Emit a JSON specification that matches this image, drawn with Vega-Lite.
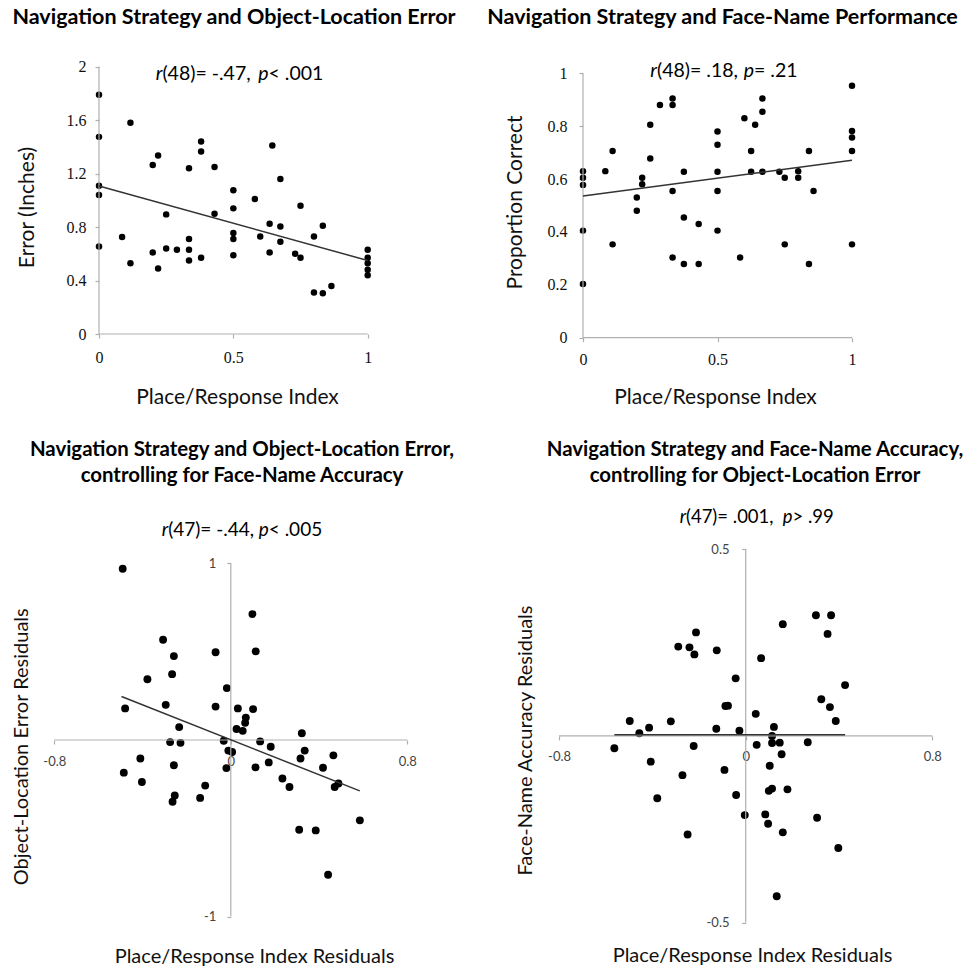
{
  "$schema": "https://vega.github.io/schema/vega-lite/v6.json",
  "padding": 0,
  "background": "white",
  "config": {
    "view": {"stroke": null},
    "font": "Lato",
    "axis": {
      "domain": false, "grid": false, "ticks": true, "tickSize": 4, "tickColor": "#b0b0b0", "tickWidth": 1.2,
      "labelFlush": false, "labelOverlap": false, "labelBaseline": "middle",
      "titleFont": "Lato", "titleFontSize": 21, "titleFontWeight": "normal", "titleColor": "#111",
      "titleAlign": "center", "titleBaseline": "middle"
    },
    "title": {"font": "Lato", "fontSize": 21.5, "fontWeight": "bold", "color": "#000", "frame": "group", "anchor": "middle", "baseline": "middle"}
  },
  "datasets": {
    "tl": [
      {"pri": 0, "error": 1.79}, {"pri": 0, "error": 1.475}, {"pri": 0, "error": 1.11}, {"pri": 0, "error": 1.04}, {"pri": 0, "error": 0.655},
      {"pri": 0.086, "error": 0.725}, {"pri": 0.117, "error": 1.58}, {"pri": 0.117, "error": 0.53},
      {"pri": 0.2, "error": 1.265}, {"pri": 0.22, "error": 1.335}, {"pri": 0.2, "error": 0.61}, {"pri": 0.22, "error": 0.49},
      {"pri": 0.25, "error": 0.895}, {"pri": 0.25, "error": 0.64}, {"pri": 0.29, "error": 0.63},
      {"pri": 0.335, "error": 1.24}, {"pri": 0.335, "error": 0.71}, {"pri": 0.335, "error": 0.63}, {"pri": 0.335, "error": 0.55},
      {"pri": 0.38, "error": 1.44}, {"pri": 0.38, "error": 1.365}, {"pri": 0.38, "error": 0.57},
      {"pri": 0.43, "error": 1.25}, {"pri": 0.43, "error": 0.9},
      {"pri": 0.5, "error": 1.075}, {"pri": 0.5, "error": 0.94}, {"pri": 0.5, "error": 0.755}, {"pri": 0.5, "error": 0.71}, {"pri": 0.5, "error": 0.59},
      {"pri": 0.58, "error": 1.01}, {"pri": 0.6, "error": 0.73}, {"pri": 0.645, "error": 1.41}, {"pri": 0.635, "error": 0.825}, {"pri": 0.635, "error": 0.61},
      {"pri": 0.675, "error": 1.16}, {"pri": 0.675, "error": 0.805}, {"pri": 0.675, "error": 0.69},
      {"pri": 0.73, "error": 0.6}, {"pri": 0.75, "error": 0.96}, {"pri": 0.75, "error": 0.57},
      {"pri": 0.8, "error": 0.73}, {"pri": 0.833, "error": 0.81}, {"pri": 0.8, "error": 0.31}, {"pri": 0.833, "error": 0.305}, {"pri": 0.865, "error": 0.36},
      {"pri": 1, "error": 0.63}, {"pri": 1, "error": 0.57}, {"pri": 1, "error": 0.53}, {"pri": 1, "error": 0.48}, {"pri": 1, "error": 0.44}
    ],
    "tr": [
      {"pri": 0, "correct": 0.63}, {"pri": 0, "correct": 0.605}, {"pri": 0, "correct": 0.578}, {"pri": 0, "correct": 0.405}, {"pri": 0, "correct": 0.203},
      {"pri": 0.083, "correct": 0.63}, {"pri": 0.11, "correct": 0.706}, {"pri": 0.11, "correct": 0.353},
      {"pri": 0.2, "correct": 0.53}, {"pri": 0.2, "correct": 0.48}, {"pri": 0.22, "correct": 0.605}, {"pri": 0.22, "correct": 0.58},
      {"pri": 0.25, "correct": 0.805}, {"pri": 0.25, "correct": 0.678}, {"pri": 0.286, "correct": 0.88},
      {"pri": 0.333, "correct": 0.905}, {"pri": 0.333, "correct": 0.88}, {"pri": 0.333, "correct": 0.555}, {"pri": 0.333, "correct": 0.303},
      {"pri": 0.375, "correct": 0.628}, {"pri": 0.375, "correct": 0.455}, {"pri": 0.375, "correct": 0.279},
      {"pri": 0.43, "correct": 0.43}, {"pri": 0.43, "correct": 0.279},
      {"pri": 0.5, "correct": 0.78}, {"pri": 0.5, "correct": 0.73}, {"pri": 0.5, "correct": 0.628}, {"pri": 0.5, "correct": 0.555}, {"pri": 0.5, "correct": 0.405},
      {"pri": 0.584, "correct": 0.303}, {"pri": 0.6, "correct": 0.83}, {"pri": 0.625, "correct": 0.706}, {"pri": 0.625, "correct": 0.628}, {"pri": 0.64, "correct": 0.805},
      {"pri": 0.667, "correct": 0.905}, {"pri": 0.667, "correct": 0.855}, {"pri": 0.667, "correct": 0.628},
      {"pri": 0.73, "correct": 0.628}, {"pri": 0.75, "correct": 0.605}, {"pri": 0.75, "correct": 0.353},
      {"pri": 0.8, "correct": 0.63}, {"pri": 0.8, "correct": 0.605}, {"pri": 0.84, "correct": 0.706}, {"pri": 0.84, "correct": 0.279}, {"pri": 0.857, "correct": 0.555},
      {"pri": 1, "correct": 0.953}, {"pri": 1, "correct": 0.782}, {"pri": 1, "correct": 0.757}, {"pri": 1, "correct": 0.706}, {"pri": 1, "correct": 0.353}
    ],
    "bl": [
      {"pri_res": -0.49, "err_res": 0.97}, {"pri_res": -0.479, "err_res": 0.179}, {"pri_res": -0.485, "err_res": -0.185}, {"pri_res": -0.41, "err_res": -0.105}, {"pri_res": -0.403, "err_res": -0.238},
      {"pri_res": -0.378, "err_res": 0.344}, {"pri_res": -0.307, "err_res": 0.568}, {"pri_res": -0.258, "err_res": 0.475}, {"pri_res": -0.266, "err_res": 0.373}, {"pri_res": -0.295, "err_res": 0.199},
      {"pri_res": -0.234, "err_res": 0.073}, {"pri_res": -0.275, "err_res": -0.012}, {"pri_res": -0.228, "err_res": -0.016}, {"pri_res": -0.258, "err_res": -0.143}, {"pri_res": -0.254, "err_res": -0.314},
      {"pri_res": -0.264, "err_res": -0.35}, {"pri_res": -0.139, "err_res": -0.328}, {"pri_res": -0.116, "err_res": -0.258}, {"pri_res": -0.069, "err_res": 0.497}, {"pri_res": -0.069, "err_res": 0.189},
      {"pri_res": -0.018, "err_res": 0.294}, {"pri_res": -0.032, "err_res": -0.004}, {"pri_res": -0.011, "err_res": -0.06}, {"pri_res": 0.006, "err_res": -0.068}, {"pri_res": -0.02, "err_res": -0.159},
      {"pri_res": 0.032, "err_res": 0.179}, {"pri_res": 0.026, "err_res": 0.062}, {"pri_res": 0.054, "err_res": 0.052}, {"pri_res": 0.068, "err_res": 0.127}, {"pri_res": 0.065, "err_res": 0.097},
      {"pri_res": 0.098, "err_res": 0.713}, {"pri_res": 0.113, "err_res": 0.502}, {"pri_res": 0.101, "err_res": 0.175}, {"pri_res": 0.112, "err_res": -0.155}, {"pri_res": 0.133, "err_res": -0.008},
      {"pri_res": 0.181, "err_res": -0.038}, {"pri_res": 0.172, "err_res": -0.127}, {"pri_res": 0.234, "err_res": -0.218}, {"pri_res": 0.266, "err_res": -0.266}, {"pri_res": 0.322, "err_res": 0.038},
      {"pri_res": 0.335, "err_res": -0.06}, {"pri_res": 0.316, "err_res": -0.105}, {"pri_res": 0.31, "err_res": -0.508}, {"pri_res": 0.385, "err_res": -0.512}, {"pri_res": 0.418, "err_res": -0.157},
      {"pri_res": 0.465, "err_res": -0.087}, {"pri_res": 0.471, "err_res": -0.266}, {"pri_res": 0.488, "err_res": -0.246}, {"pri_res": 0.441, "err_res": -0.763}, {"pri_res": 0.585, "err_res": -0.455}
    ],
    "br": [
      {"pri_res": -0.563, "acc_res": -0.033}, {"pri_res": -0.497, "acc_res": 0.04}, {"pri_res": -0.456, "acc_res": 0.007}, {"pri_res": -0.414, "acc_res": 0.022}, {"pri_res": -0.407, "acc_res": -0.069},
      {"pri_res": -0.379, "acc_res": -0.167}, {"pri_res": -0.321, "acc_res": 0.039}, {"pri_res": -0.289, "acc_res": 0.239}, {"pri_res": -0.271, "acc_res": -0.105}, {"pri_res": -0.249, "acc_res": -0.264},
      {"pri_res": -0.241, "acc_res": 0.237}, {"pri_res": -0.22, "acc_res": 0.218}, {"pri_res": -0.213, "acc_res": 0.277}, {"pri_res": -0.223, "acc_res": -0.027}, {"pri_res": -0.126, "acc_res": 0.019},
      {"pri_res": -0.124, "acc_res": 0.229}, {"pri_res": -0.091, "acc_res": -0.091}, {"pri_res": -0.087, "acc_res": 0.08}, {"pri_res": -0.076, "acc_res": 0.081}, {"pri_res": -0.043, "acc_res": 0.154},
      {"pri_res": -0.041, "acc_res": -0.158}, {"pri_res": -0.027, "acc_res": 0.014}, {"pri_res": -0.004, "acc_res": -0.212}, {"pri_res": 0.043, "acc_res": 0.059}, {"pri_res": 0.047, "acc_res": -0.024},
      {"pri_res": 0.066, "acc_res": 0.208}, {"pri_res": 0.084, "acc_res": -0.21}, {"pri_res": 0.096, "acc_res": -0.235}, {"pri_res": 0.099, "acc_res": -0.147}, {"pri_res": 0.113, "acc_res": -0.141},
      {"pri_res": 0.103, "acc_res": -0.08}, {"pri_res": 0.113, "acc_res": 0.0}, {"pri_res": 0.121, "acc_res": 0.024}, {"pri_res": 0.113, "acc_res": -0.019}, {"pri_res": 0.146, "acc_res": -0.018},
      {"pri_res": 0.154, "acc_res": -0.049}, {"pri_res": 0.159, "acc_res": 0.299}, {"pri_res": 0.159, "acc_res": -0.258}, {"pri_res": 0.179, "acc_res": -0.143}, {"pri_res": 0.133, "acc_res": -0.429},
      {"pri_res": 0.266, "acc_res": -0.017}, {"pri_res": 0.301, "acc_res": 0.323}, {"pri_res": 0.306, "acc_res": -0.219}, {"pri_res": 0.324, "acc_res": 0.098}, {"pri_res": 0.351, "acc_res": 0.273},
      {"pri_res": 0.361, "acc_res": 0.077}, {"pri_res": 0.366, "acc_res": 0.323}, {"pri_res": 0.386, "acc_res": 0.04}, {"pri_res": 0.426, "acc_res": 0.136}, {"pri_res": 0.397, "acc_res": -0.3}
    ]
  },
  "columns": 2,
  "bounds": "flush",
  "spacing": {"row": 1, "column": 1},
  "concat": [
    {
      "width": 484, "height": 484,
      "title": {"text": "Navigation Strategy and Object-Location Error", "offset": -28, "dx": -8},
      "layer": [
        {"data": {"name": "tl"}, "mark": {"type": "circle", "size": 42, "color": "#000", "opacity": 1},
         "encoding": {
           "x": {"field": "pri", "type": "quantitative", "scale": {"domain": [-0.36844, 1.43283], "nice": false, "zero": false},
                 "axis": {"title": "Place/Response Index", "values": [0, 0.5, 1], "labelExpr": "'' + datum.value", "offset": -150,
                          "labelFont": "Liberation Serif", "labelFontSize": 16, "labelColor": "#111", "labelPadding": 19,
                          "titleX": 237, "titleY": 63}},
           "y": {"field": "error", "type": "quantitative", "scale": {"domain": [-1.12233, 2.49906], "nice": false, "zero": false},
                 "axis": {"title": "Error (Inches)", "values": [0, 0.4, 0.8, 1.2, 1.6, 2], "labelExpr": "'' + datum.value", "offset": -99,
                          "labelFont": "Liberation Serif", "labelFontSize": 16, "labelColor": "#111", "labelPadding": 9,
                          "titleX": -72, "titleY": 207, "titleAngle": 270}}
         }},
        {"data": {"values": [{}]}, "mark": {"type": "rule", "color": "#b0b0b0", "strokeWidth": 1.2},
         "encoding": {"x": {"datum": 0}, "y": {"datum": 0}, "y2": {"datum": 2}}},
        {"data": {"values": [{}]}, "mark": {"type": "rule", "color": "#b0b0b0", "strokeWidth": 1.2},
         "encoding": {"x": {"datum": 0}, "x2": {"datum": 1}, "y": {"datum": 0}}},
        {"data": {"values": [{}]}, "mark": {"type": "rule", "color": "#333", "strokeWidth": 1.5},
         "encoding": {"x": {"datum": 0}, "y": {"datum": 1.1075}, "x2": {"datum": 1}, "y2": {"datum": 0.55}}},
        {"data": {"values": [{}]}, "mark": {"type": "text", "text": "r", "fontStyle": "italic", "align": "right", "baseline": "middle", "fontSize": 19.5, "color": "#000"},
         "encoding": {"x": {"datum": 0.236}, "y": {"datum": 1.945}}},
        {"data": {"values": [{}]}, "mark": {"type": "text", "text": "(48)= -.47,", "align": "left", "baseline": "middle", "fontSize": 19.5, "color": "#000"},
         "encoding": {"x": {"datum": 0.236}, "y": {"datum": 1.945}}},
        {"data": {"values": [{}]}, "mark": {"type": "text", "text": "p", "fontStyle": "italic", "align": "right", "baseline": "middle", "fontSize": 19.5, "color": "#000"},
         "encoding": {"x": {"datum": 0.631}, "y": {"datum": 1.945}}},
        {"data": {"values": [{}]}, "mark": {"type": "text", "text": "< .001", "align": "left", "baseline": "middle", "fontSize": 19.5, "color": "#000"},
         "encoding": {"x": {"datum": 0.631}, "y": {"datum": 1.945}}}
      ]
    },
    {
      "width": 484, "height": 484,
      "title": {"text": "Navigation Strategy and Face-Name Performance", "offset": -28, "dx": -4.5},
      "layer": [
        {"data": {"name": "tr"}, "mark": {"type": "circle", "size": 42, "color": "#000", "opacity": 1},
         "encoding": {
           "x": {"field": "pri", "type": "quantitative", "scale": {"domain": [-0.36431, 1.43494], "nice": false, "zero": false},
                 "axis": {"title": "Place/Response Index", "values": [0, 0.5, 1], "labelExpr": "'' + datum.value", "offset": -146.3,
                          "labelFont": "Liberation Serif", "labelFontSize": 16, "labelColor": "#111", "labelPadding": 18,
                          "titleX": 230, "titleY": 59.3}},
           "y": {"field": "correct", "type": "quantitative", "scale": {"domain": [-0.55333, 1.27723], "nice": false, "zero": false},
                 "axis": {"title": "Proportion Correct", "values": [0, 0.2, 0.4, 0.6, 0.8, 1], "labelExpr": "'' + datum.value", "offset": -98,
                          "labelFont": "Liberation Serif", "labelFontSize": 16, "labelColor": "#111", "labelPadding": 12,
                          "titleX": -68, "titleY": 202, "titleAngle": 270}}
         }},
        {"data": {"values": [{}]}, "mark": {"type": "rule", "color": "#b0b0b0", "strokeWidth": 1.2},
         "encoding": {"x": {"datum": 0}, "y": {"datum": 0}, "y2": {"datum": 1}}},
        {"data": {"values": [{}]}, "mark": {"type": "rule", "color": "#b0b0b0", "strokeWidth": 1.2},
         "encoding": {"x": {"datum": 0}, "x2": {"datum": 1}, "y": {"datum": 0}}},
        {"data": {"values": [{}]}, "mark": {"type": "rule", "color": "#333", "strokeWidth": 1.5},
         "encoding": {"x": {"datum": 0}, "y": {"datum": 0.536}, "x2": {"datum": 1}, "y2": {"datum": 0.671}}},
        {"data": {"values": [{}]}, "mark": {"type": "text", "text": "r", "fontStyle": "italic", "align": "right", "baseline": "middle", "fontSize": 19.5, "color": "#000"},
         "encoding": {"x": {"datum": 0.275}, "y": {"datum": 1.0087}}},
        {"data": {"values": [{}]}, "mark": {"type": "text", "text": "(48)= .18,", "align": "left", "baseline": "middle", "fontSize": 19.5, "color": "#000"},
         "encoding": {"x": {"datum": 0.275}, "y": {"datum": 1.0087}}},
        {"data": {"values": [{}]}, "mark": {"type": "text", "text": "p", "fontStyle": "italic", "align": "right", "baseline": "middle", "fontSize": 19.5, "color": "#000"},
         "encoding": {"x": {"datum": 0.6357}, "y": {"datum": 1.0087}}},
        {"data": {"values": [{}]}, "mark": {"type": "text", "text": "= .21", "align": "left", "baseline": "middle", "fontSize": 19.5, "color": "#000"},
         "encoding": {"x": {"datum": 0.6357}, "y": {"datum": 1.0087}}}
      ]
    },
    {
      "width": 484, "height": 484,
      "title": {"text": ["Navigation Strategy and Object-Location Error,", "controlling for Face-Name Accuracy"], "fontSize": 20.4, "offset": -1, "dx": 0, "lineHeight": 26},
      "layer": [
        {"data": {"name": "bl"}, "mark": {"type": "circle", "size": 62, "color": "#000", "opacity": 1},
         "encoding": {
           "x": {"field": "pri_res", "type": "quantitative", "scale": {"domain": [-1.04624, 1.14778], "nice": false, "zero": false},
                 "axis": {"title": "Place/Response Index Residuals", "values": [-0.8, 0, 0.8], "labelExpr": "'' + datum.value", "offset": -229,
                          "labelFont": "Lato", "labelFontSize": 13, "labelColor": "#444", "labelPadding": 17,
                          "titleFontSize": 20, "titleX": 254, "titleY": 216.8}},
           "y": {"field": "err_res", "type": "quantitative", "scale": {"domain": [-1.29672, 1.44394], "nice": false, "zero": false},
                 "axis": {"title": "Object-Location Error Residuals", "values": [-1, 1], "labelExpr": "'' + datum.value", "offset": -230.8,
                          "labelFont": "Lato", "labelFontSize": 13, "labelColor": "#444", "labelPadding": 11,
                          "titleFontSize": 20, "titleX": -209.8, "titleY": 261.3, "titleAngle": 270}}
         }},
        {"data": {"values": [{}]}, "mark": {"type": "rule", "color": "#b0b0b0", "strokeWidth": 1.2},
         "encoding": {"x": {"datum": 0}, "y": {"datum": -1}, "y2": {"datum": 1}}},
        {"data": {"values": [{}]}, "mark": {"type": "rule", "color": "#b0b0b0", "strokeWidth": 1.2},
         "encoding": {"x": {"datum": -0.8}, "x2": {"datum": 0.8}, "y": {"datum": 0}}},
        {"data": {"values": [{}]}, "mark": {"type": "rule", "color": "#333", "strokeWidth": 1.5},
         "encoding": {"x": {"datum": -0.4955}, "y": {"datum": 0.2463}, "x2": {"datum": 0.5847}, "y2": {"datum": -0.288}}},
        {"data": {"values": [{}]}, "mark": {"type": "text", "text": "r", "fontStyle": "italic", "align": "right", "baseline": "middle", "fontSize": 19, "color": "#000"},
         "encoding": {"x": {"datum": -0.284}, "y": {"datum": 1.19}}},
        {"data": {"values": [{}]}, "mark": {"type": "text", "text": "(47)= -.44,", "align": "left", "baseline": "middle", "fontSize": 19, "color": "#000"},
         "encoding": {"x": {"datum": -0.284}, "y": {"datum": 1.19}}},
        {"data": {"values": [{}]}, "mark": {"type": "text", "text": "p", "fontStyle": "italic", "align": "right", "baseline": "middle", "fontSize": 19, "color": "#000"},
         "encoding": {"x": {"datum": 0.172}, "y": {"datum": 1.19}}},
        {"data": {"values": [{}]}, "mark": {"type": "text", "text": "< .005", "align": "left", "baseline": "middle", "fontSize": 19, "color": "#000"},
         "encoding": {"x": {"datum": 0.172}, "y": {"datum": 1.19}}}
      ]
    },
    {
      "width": 484, "height": 484,
      "title": {"text": ["Navigation Strategy and Face-Name Accuracy,", "controlling for Object-Location Error"], "fontSize": 20.4, "offset": -1, "dx": 28, "lineHeight": 26},
      "layer": [
        {"data": {"name": "br"}, "mark": {"type": "circle", "size": 62, "color": "#000", "opacity": 1},
         "encoding": {
           "x": {"field": "pri_res", "type": "quantitative", "scale": {"domain": [-1.11744, 0.95714], "nice": false, "zero": false},
                 "axis": {"title": "Place/Response Index Residuals", "values": [-0.8, 0, 0.8], "labelExpr": "'' + datum.value", "offset": -233.1,
                          "labelFont": "Lato", "labelFontSize": 13, "labelColor": "#444", "labelPadding": 17,
                          "titleFontSize": 20, "titleX": 267, "titleY": 219.1}},
           "y": {"field": "acc_res", "type": "quantitative", "scale": {"domain": [-0.62376, 0.67139], "nice": false, "zero": false},
                 "axis": {"title": "Face-Name Accuracy Residuals", "values": [-0.5, 0.5], "labelExpr": "'' + datum.value", "offset": -260.7,
                          "labelFont": "Lato", "labelFontSize": 13, "labelColor": "#444", "labelPadding": 12.7,
                          "titleFontSize": 20, "titleX": -220.7, "titleY": 255, "titleAngle": 270}}
         }},
        {"data": {"values": [{}]}, "mark": {"type": "rule", "color": "#b0b0b0", "strokeWidth": 1.2},
         "encoding": {"x": {"datum": 0}, "y": {"datum": -0.5}, "y2": {"datum": 0.5}}},
        {"data": {"values": [{}]}, "mark": {"type": "rule", "color": "#b0b0b0", "strokeWidth": 1.2},
         "encoding": {"x": {"datum": -0.8}, "x2": {"datum": 0.8}, "y": {"datum": 0}}},
        {"data": {"values": [{}]}, "mark": {"type": "rule", "color": "#333", "strokeWidth": 1.5},
         "encoding": {"x": {"datum": -0.563}, "y": {"datum": 0.003}, "x2": {"datum": 0.426}, "y2": {"datum": 0.003}}},
        {"data": {"values": [{}]}, "mark": {"type": "text", "text": "r", "fontStyle": "italic", "align": "right", "baseline": "middle", "fontSize": 18.5, "color": "#000"},
         "encoding": {"x": {"datum": -0.256}, "y": {"datum": 0.585}}},
        {"data": {"values": [{}]}, "mark": {"type": "text", "text": "(47)= .001,", "align": "left", "baseline": "middle", "fontSize": 18.5, "color": "#000"},
         "encoding": {"x": {"datum": -0.256}, "y": {"datum": 0.585}}},
        {"data": {"values": [{}]}, "mark": {"type": "text", "text": "p", "fontStyle": "italic", "align": "right", "baseline": "middle", "fontSize": 18.5, "color": "#000"},
         "encoding": {"x": {"datum": 0.2006}, "y": {"datum": 0.585}}},
        {"data": {"values": [{}]}, "mark": {"type": "text", "text": "> .99", "align": "left", "baseline": "middle", "fontSize": 18.5, "color": "#000"},
         "encoding": {"x": {"datum": 0.2006}, "y": {"datum": 0.585}}}
      ]
    }
  ]
}
